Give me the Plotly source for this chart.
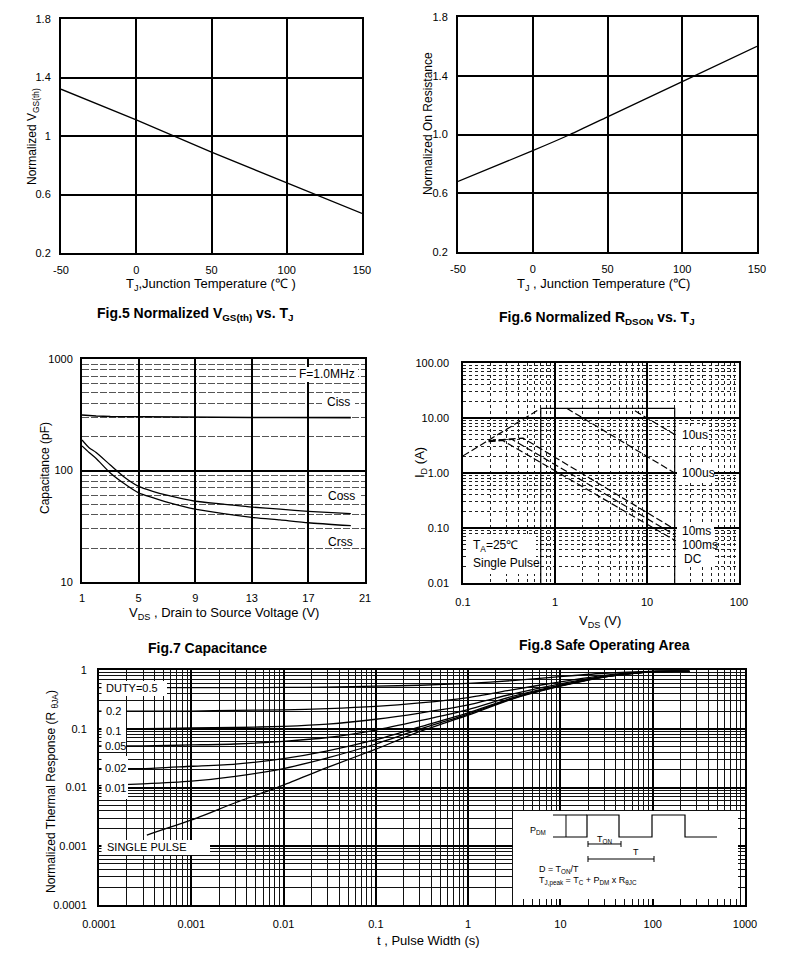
import plotly.graph_objects as go

# the page body keeps an 8px margin, so the figure is sized to fit inside the window
OFF = 8
W, H = 774, 946
FONT = "Liberation Sans, Arial, sans-serif"


def X(px):
    return (px - OFF) / W


def Y(py):
    return 1 - (py - OFF) / H


# ---------------- data ----------------
# Fig.5  Normalized VGS(th) vs TJ
tj5 = [-50, 0, 50, 100, 150]
vgs_th_norm = [1.32, 1.11, 0.89, 0.68, 0.47]

# Fig.6  Normalized RDSON vs TJ
tj6 = [-50, 0, 25, 50, 100, 150]
rdson_norm = [0.68, 0.89, 1.00, 1.12, 1.36, 1.60]

# Fig.7  Capacitance
vds_cap = [1, 1.5, 2, 3, 4, 5, 6, 7, 9, 11, 13, 15, 17, 20]
ciss = [315, 310, 308, 305, 304, 303, 302, 301, 300, 300, 299, 299, 298, 298]
coss = [188, 160, 145, 112, 87, 72, 65, 60, 53, 50, 47, 45, 43, 41]
crss = [166, 145, 128, 95, 76, 63, 57, 52, 45, 41, 38, 36, 34, 32]

# Fig.8  Safe Operating Area
rds_lim_v = [0.1, 0.68]
rds_lim_i = [2.05, 14.5]
box_v = [0.7, 0.7, 20, 20]
box_i = [0.01, 15, 15, 0.01]
us10_v = [7.4, 20]
us10_i = [13.5, 5.0]
us100_v = [1.34, 20]
us100_i = [15, 1.0]
ms10_v = [0.19, 0.45, 20]
ms10_i = [3.9, 4.3, 0.095]
ms100_v = [0.19, 0.34, 20]
ms100_i = [3.8, 4.1, 0.075]
dc_v = [0.19, 0.27, 20]
dc_i = [3.7, 3.9, 0.06]

# Fig.9  Normalized thermal response
t_pulse = [1e-4, 3e-4, 1e-3, 3e-3, 1e-2, 3e-2, 0.1, 0.3, 1, 3, 10, 30, 100, 250]
z_d05 = [0.50, 0.50, 0.50, 0.50, 0.505, 0.51, 0.53, 0.55, 0.59, 0.66, 0.77, 0.88, 0.95, 0.96]
z_d02 = [0.20, 0.20, 0.20, 0.205, 0.21, 0.22, 0.24, 0.275, 0.34, 0.46, 0.63, 0.81, 0.945, 0.955]
z_d01 = [0.10, 0.10, 0.103, 0.105, 0.11, 0.12, 0.145, 0.185, 0.255, 0.39, 0.58, 0.785, 0.94, 0.95]
z_d005 = [0.051, 0.051, 0.053, 0.055, 0.061, 0.071, 0.095, 0.137, 0.212, 0.355, 0.555, 0.772, 0.94, 0.95]
z_d002 = [0.021, 0.021, 0.023, 0.025, 0.031, 0.042, 0.065, 0.108, 0.187, 0.334, 0.54, 0.765, 0.94, 0.95]
z_d001 = [0.0108, 0.0115, 0.0128, 0.0155, 0.021, 0.032, 0.055, 0.099, 0.178, 0.327, 0.535, 0.762, 0.94, 0.95]
t_single = [3.3e-4, 1e-3, 3e-3, 1e-2, 3e-2, 0.1, 0.3, 1, 3, 10, 30, 100, 250]
z_single = [0.00155, 0.0028, 0.0055, 0.011, 0.022, 0.045, 0.09, 0.17, 0.32, 0.53, 0.76, 0.94, 0.95]

tj_ticks = [-50, 0, 50, 100, 150]
tj_ticktext = ["-50", "0", "50", "100", "150"]

# ---------------- figure ----------------
fig = go.Figure()


def line(x, y, xa, ya, dash=None, width=1.3, shape="linear"):
    fig.add_trace(go.Scatter(x=x, y=y, xaxis=xa, yaxis=ya, mode="lines",
                             line=dict(color="black", width=width, dash=dash, shape=shape,
                                       smoothing=0.6),
                             hoverinfo="skip"))


DASH = "7px,3px"
line(tj5, vgs_th_norm, "x", "y")
line(tj6, rdson_norm, "x2", "y2", shape="spline")
line(vds_cap, ciss, "x3", "y3", width=1.6)
line(vds_cap, coss, "x3", "y3", shape="spline")
line(vds_cap, crss, "x3", "y3", shape="spline")
line(box_v, box_i, "x4", "y4", width=1.2)
line(rds_lim_v, rds_lim_i, "x4", "y4", dash=DASH, width=1.2)
line(us10_v, us10_i, "x4", "y4", dash=DASH, width=1.2)
line(us100_v, us100_i, "x4", "y4", dash=DASH, width=1.2)
line(ms10_v, ms10_i, "x4", "y4", dash=DASH, width=1.2)
line(ms100_v, ms100_i, "x4", "y4", dash=DASH, width=1.2)
line(dc_v, dc_i, "x4", "y4", dash=DASH, width=1.2)
for zz in [z_d05, z_d02, z_d01, z_d005, z_d002, z_d001]:
    line(t_pulse, zz, "x5", "y5", shape="spline", width=1.3)
line(t_single, z_single, "x5", "y5", shape="spline", width=1.3)

TICKF = dict(family=FONT, size=11, color="black")
base = dict(showline=True, mirror=True, linecolor="black", linewidth=2, zeroline=False,
            ticks="", tickfont=TICKF, showgrid=True, gridcolor="black", automargin=False)

fig.update_layout(
    xaxis=dict(base, domain=[X(61), X(362)], range=[-50, 150], anchor="y",
               tickvals=tj_ticks, ticktext=tj_ticktext, gridwidth=2, ticklabelstandoff=6),
    yaxis=dict(base, domain=[Y(253), Y(19)], range=[0.2, 1.8], anchor="x",
               tickvals=[0.2, 0.6, 1, 1.4, 1.8], ticktext=["0.2", "0.6", "1", "1.4", "1.8"],
               gridwidth=2, ticklabelstandoff=6),
    xaxis2=dict(base, domain=[X(458), X(757)], range=[-50, 150], anchor="y2",
                tickvals=tj_ticks, ticktext=tj_ticktext, gridwidth=2, ticklabelstandoff=6),
    yaxis2=dict(base, domain=[Y(252), Y(17)], range=[0.2, 1.8], anchor="x2",
                tickvals=[0.2, 0.6, 1, 1.4, 1.8], ticktext=["0.2", "0.6", "1.0", "1.4", "1.8"],
                gridwidth=2, ticklabelstandoff=6),
    xaxis3=dict(base, domain=[X(82), X(365)], range=[1, 21], anchor="y3",
                tickvals=[1, 5, 9, 13, 17, 21], gridwidth=2, ticklabelstandoff=5),
    yaxis3=dict(base, domain=[Y(582), Y(359)], type="log", range=[1, 3], anchor="x3",
                dtick=1, tickformat="~g", gridwidth=2, ticklabelstandoff=5,
                minor=dict(dtick="D1", showgrid=True, gridcolor="#555", gridwidth=1,
                           griddash="7px,2px", ticks="")),
    xaxis4=dict(base, domain=[X(463), X(739)], type="log", range=[-1, 2], anchor="y4",
                dtick=1, tickformat="~g", gridwidth=1.5, linewidth=1.5, ticklabelstandoff=8,
                minor=dict(dtick="D1", showgrid=True, gridcolor="#222", gridwidth=1,
                           griddash="dot", ticks="")),
    yaxis4=dict(base, domain=[Y(583), Y(363)], type="log", range=[-2, 2], anchor="x4",
                dtick=1, tickformat=".2f", gridwidth=1.5, linewidth=1.5, ticklabelstandoff=10,
                minor=dict(dtick="D1", showgrid=True, gridcolor="#222", gridwidth=1,
                           griddash="dot", ticks="")),
    xaxis5=dict(base, domain=[X(99), X(745)], type="log", range=[-4, 3], anchor="y5",
                dtick=1, tickformat="~g", gridwidth=1.5, ticklabelstandoff=8,
                minor=dict(dtick="D1", showgrid=True, gridcolor="#111", gridwidth=1, ticks="")),
    yaxis5=dict(base, domain=[Y(905), Y(670)], type="log", range=[-4, 0], anchor="x5",
                dtick=1, tickformat="~g", gridwidth=1.5, ticklabelstandoff=8,
                minor=dict(dtick="D1", showgrid=True, gridcolor="#111", gridwidth=1, ticks="")),
)

annots = []


def txt(text, px, py, size=12, xanchor="center", yanchor="middle", angle=0, bold=False):
    if bold:
        text = "<b>" + text + "</b>"
    annots.append(dict(text=text, x=X(px), y=Y(py), xref="paper", yref="paper",
                       xanchor=xanchor, yanchor=yanchor, showarrow=False, textangle=angle,
                       font=dict(family=FONT, size=size, color="black")))


# titles / axis titles
txt("Normalized V<sub>GS(th)</sub>", 33, 136, size=12, angle=-90)
txt("T<sub>J</sub>,Junction Temperature (℃ )", 211, 284, size=13)
txt("Fig.5 Normalized V<sub>GS(th)</sub> vs. T<sub>J</sub>", 195, 314, size=14, bold=True)

txt("Normalized On Resistance", 428, 124, size=12, angle=-90)
txt("T<sub>J</sub> , Junction Temperature (℃)", 603, 284, size=13)
txt("Fig.6 Normalized R<sub>DSON</sub> vs. T<sub>J</sub>", 597, 318, size=14, bold=True)

txt("Capacitance (pF)", 45, 468, size=12, angle=-90)
txt("V<sub>DS</sub> , Drain to Source Voltage (V)", 224, 613, size=13)
txt("Fig.7 Capacitance", 207, 648, size=14, bold=True)

txt("I<sub>D</sub> (A)", 420, 463, size=13, angle=-90)
txt("V<sub>DS</sub> (V)", 600, 621, size=13)
txt("Fig.8 Safe Operating Area", 604, 645, size=14, bold=True)

txt("Normalized Thermal Response (R <sub>θJA</sub>)", 52, 792, size=12, angle=-90)
txt("t , Pulse Width (s)", 428, 940, size=13)

# white label boxes
shapes = []


def wbox(x0, y0, x1, y1):
    shapes.append(dict(type="rect", xref="paper", yref="paper", x0=X(x0), x1=X(x1),
                       y0=Y(y1), y1=Y(y0), fillcolor="white", line=dict(width=0), layer="above"))


# Fig7 labels
wbox(297, 367, 358, 382)
wbox(322, 394, 355, 410)
wbox(322, 488, 360, 504)
wbox(322, 535, 358, 547)
txt("F=1.0MHz", 327, 374, size=12)
txt("Ciss", 338, 402, size=12)
txt("Coss", 341, 496, size=12)
txt("Crss", 340, 542, size=12)

# Fig8 labels
wbox(677, 426, 707, 444)
wbox(677, 465, 714, 482)
wbox(677, 523, 714, 567)
wbox(466, 536, 536, 574)
txt("10us", 680, 435, size=12, xanchor="left")
txt("100us", 680, 473, size=12, xanchor="left")
txt("10ms", 680, 531, size=12, xanchor="left")
txt("100ms", 680, 545, size=12, xanchor="left")
txt("DC", 682, 559, size=12, xanchor="left")
txt("T<sub>A</sub>=25℃", 471, 546, size=12, xanchor="left")
txt("Single Pulse", 471, 563, size=12, xanchor="left")

# Thermal labels
wbox(101.5, 681, 167, 696)
wbox(101.5, 702, 126, 752)
wbox(101.5, 756, 128, 799)
wbox(101.5, 840, 210, 855)
txt("DUTY=0.5", 104, 688, size=11, xanchor="left")
txt("0.2", 104, 711, size=11, xanchor="left")
txt("0.1", 104, 731, size=11, xanchor="left")
txt("0.05", 103, 746, size=11, xanchor="left")
txt("0.02", 103, 768, size=11, xanchor="left")
txt("0.01", 103, 788, size=11, xanchor="left")
txt("SINGLE PULSE", 105, 847, size=11, xanchor="left")

# inset box with pulse diagram
wbox(513, 811, 738, 899)


def path(pts):
    return "M " + " L ".join(f"{X(a):.5f},{Y(b):.5f}" for a, b in pts)


wave = [(553, 837), (587, 837), (587, 815), (619, 815), (619, 837), (652, 837),
        (652, 815), (685, 815), (685, 837), (717, 837)]
shapes.append(dict(type="path", xref="paper", yref="paper", path=path(wave),
                   line=dict(color="black", width=1.2), layer="above"))
for seg in [[(553, 815), (587, 815)], [(566, 815), (566, 837)],
            [(588, 844), (621, 844)], [(588, 841), (588, 847)], [(621, 841), (621, 847)],
            [(588, 859), (654, 859)], [(588, 856), (588, 862)], [(654, 856), (654, 862)]]:
    shapes.append(dict(type="path", xref="paper", yref="paper", path=path(seg),
                       line=dict(color="black", width=1), layer="above"))
txt("P<sub>DM</sub>", 528, 830, size=9, xanchor="left")
txt("T<sub>ON</sub>", 595, 839, size=9, xanchor="left")
txt("T", 631, 852, size=9, xanchor="left")
txt("D = T<sub>ON</sub>/T", 537, 869, size=9, xanchor="left")
txt("T<sub>J,peak</sub> = T<sub>C</sub> + P<sub>DM</sub> x R<sub>θJC</sub>", 537, 881, size=9, xanchor="left")

fig.update_layout(width=W, height=H, margin=dict(l=0, r=0, t=0, b=0),
                  paper_bgcolor="white", plot_bgcolor="white", showlegend=False,
                  font=dict(family=FONT, size=12, color="black"),
                  annotations=annots, shapes=shapes)

fig.write_html("out.html")
